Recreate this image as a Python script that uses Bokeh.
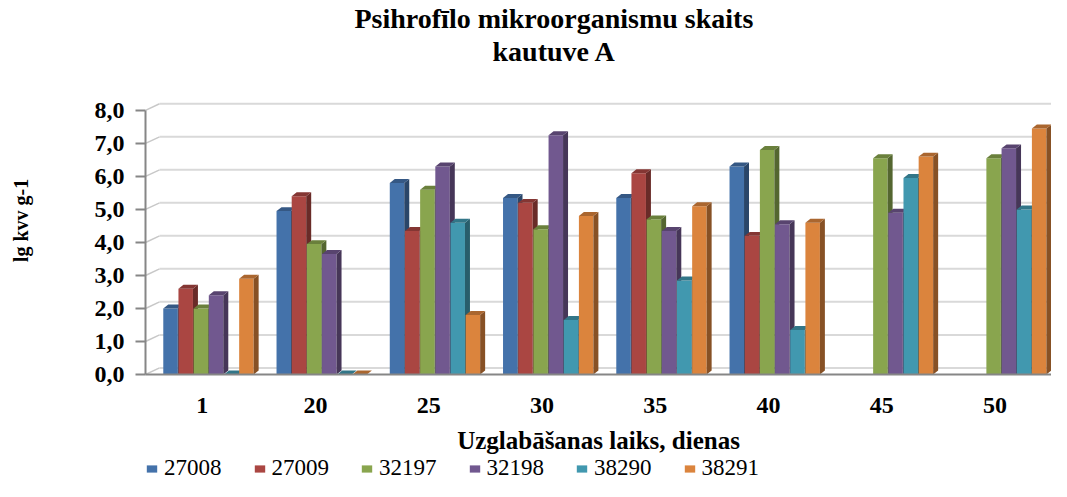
import numpy as np
from bokeh.plotting import figure
from bokeh.layouts import column
from bokeh.models import (FactorRange, Range1d, Title, Legend, LegendItem,
                          CustomJSTickFormatter, FixedTicker, ColumnDataSource)
from bokeh.embed import file_html
from bokeh.resources import INLINE

# ---------------- data ----------------
days = ["1", "20", "25", "30", "35", "40", "45", "50"]
series_names = ["27008", "27009", "32197", "32198", "38290", "38291"]
s27008 = [2.0, 4.95, 5.8, 5.35, 5.35, 6.3, None, None]
s27009 = [2.6, 5.4, 4.35, 5.2, 6.1, 4.2, None, None]
s32197 = [2.0, 3.95, 5.6, 4.4, 4.7, 6.8, 6.55, 6.55]
s32198 = [2.4, 3.65, 6.3, 7.25, 4.35, 4.55, 4.9, 6.85]
s38290 = [0.0, 0.0, 4.6, 1.65, 2.85, 1.35, 5.95, 5.0]
s38291 = [2.9, 0.0, 1.8, 4.8, 5.1, 4.6, 6.6, 7.45]
y_ticks = [0, 1, 2, 3, 4, 5, 6, 7, 8]

title_line1 = "Psihrofīlo mikroorganismu skaits"
title_line2 = "kautuve A"
x_title = "Uzglabāšanas laiks, dienas"
y_title = "lg kvv g-1"

all_series = [s27008, s27009, s32197, s32198, s38290, s38291]
colors = ["#4472AA", "#AA4642", "#89A54E", "#71588F", "#4198AF", "#DB843D"]


def shade(hexc, f):
    h = hexc.lstrip("#")
    r, g, b = (int(h[i:i + 2], 16) for i in (0, 2, 4))
    return "#%02x%02x%02x" % (int(r * f), int(g * f), int(b * f))


FONT = "Liberation Serif"

p = figure(width=1051, height=456,
           x_range=FactorRange(*days, range_padding=0),
           y_range=Range1d(0, 9.33),
           output_backend="svg", toolbar_location=None,
           min_border_left=145, min_border_right=0,
           min_border_top=0, min_border_bottom=0)
p.outline_line_color = None
p.xgrid.visible = False
p.ygrid.visible = False
p.background_fill_color = "white"

# ---- titles (p.title is the farther one) ----
p.title.text = title_line1
p.title.text_font = FONT
p.title.text_font_size = "28px"
p.title.text_font_style = "bold"
p.title.text_color = "black"
p.title.align = "left"
p.title.offset = 209
p.title.standoff = 0
t2 = Title(text=title_line2, text_font=FONT, text_font_size="28px",
           text_font_style="bold", text_color="black", align="left",
           offset=347, standoff=0)
p.add_layout(t2, "above")

# ---- 3D-ish back gridlines (depth offsets in data units) ----
DX = 0.124   # depth shift along x (category units)
DY = 0.20    # depth shift along y (value units)
gt = np.array(y_ticks, dtype=float)
p.segment(x0=np.zeros_like(gt), y0=gt, x1=np.zeros_like(gt) + DX, y1=gt + DY,
          line_color="#C8C8C8", line_width=1.5)
p.segment(x0=np.zeros_like(gt) + DX, y0=gt + DY, x1=np.full_like(gt, len(days)),
          y1=gt + DY, line_color="#D9D9D9", line_width=2)

# ---- bars ----
BW = 0.128     # bar front width
STEP = 0.134   # distance between bars in a cluster
START = -0.279  # offset of the first bar centre from category centre
SDX = 0.044    # bar depth (x)
SDY = 0.12     # bar depth (y)

for i, (name, vals, col) in enumerate(zip(series_names, all_series, colors)):
    xc, vv = [], []
    for k, v in enumerate(vals):
        if v is None:
            continue
        xc.append(k + 0.5 + START + i * STEP)
        vv.append(v)
    xc = np.array(xc)
    vv = np.array(vv)
    src = ColumnDataSource(dict(x=xc, top=vv))
    p.vbar(x="x", top="top", bottom=0, width=BW, source=src,
           fill_color=col, line_color=None)
    xl = xc - BW / 2
    xr = xc + BW / 2
    side_xs = [[a, a + SDX, a + SDX, a] for a in xr]
    side_ys = [[0, SDY, v + SDY, v] for v in vv]
    p.patches(side_xs, side_ys, fill_color=shade(col, 0.62), line_color=None)
    top_xs = [[a, b, b + SDX, a + SDX] for a, b in zip(xl, xr)]
    top_ys = [[v, v, v + SDY, v + SDY] for v in vv]
    p.patches(top_xs, top_ys, fill_color=shade(col, 0.78), line_color=None)

# ---- axes ----
xa = p.xaxis[0]
xa.axis_line_color = "#868686"
xa.axis_line_width = 2
xa.major_tick_out = 0
xa.major_tick_in = 0
xa.minor_tick_out = 0
xa.major_label_text_font = FONT
xa.major_label_text_font_size = "24px"
xa.major_label_text_font_style = "bold"
xa.major_label_text_color = "black"
xa.major_label_standoff = 23
xa.axis_label = x_title
xa.axis_label_text_font = FONT
xa.axis_label_text_font_size = "25px"
xa.axis_label_text_font_style = "bold"
xa.axis_label_text_color = "black"
xa.axis_label_standoff = 11

ya = p.yaxis[0]
ya.ticker = FixedTicker(ticks=y_ticks)
ya.formatter = CustomJSTickFormatter(code="return tick.toFixed(1).replace('.', ',');")
ya.bounds = (0, 8)
ya.axis_line_color = "#868686"
ya.axis_line_width = 2
ya.major_tick_line_color = "#868686"
ya.major_tick_line_width = 2
ya.major_tick_out = 10
ya.major_tick_in = 0
ya.minor_tick_out = 0
ya.minor_tick_in = 0
ya.major_label_text_font = FONT
ya.major_label_text_font_size = "24px"
ya.major_label_text_font_style = "bold"
ya.major_label_text_color = "black"
ya.major_label_standoff = 11
ya.axis_label = y_title
ya.axis_label_text_font = FONT
ya.axis_label_text_font_size = "20px"
ya.axis_label_text_font_style = "bold"
ya.axis_label_text_color = "black"
ya.axis_label_standoff = 60

# ---- legend strip (separate small figure below the chart) ----
lp = figure(width=1051, height=25, x_range=Range1d(0, 1), y_range=Range1d(0, 1),
            output_backend="svg", toolbar_location=None,
            x_axis_location=None, y_axis_location=None,
            min_border_left=0, min_border_right=0,
            min_border_top=0, min_border_bottom=0)
lp.outline_line_color = None
lp.xgrid.visible = False
lp.ygrid.visible = False
items = []
for name, col in zip(series_names, colors):
    # zero-height proxy bar: only its style is used for the legend swatch
    r = lp.vbar(x=[0.0], top=[0.0], bottom=[0.0], width=0.0,
                fill_color=col, line_color=None)
    items.append(LegendItem(label=name, renderers=[r]))
leg = Legend(items=items, orientation="horizontal", location=(0, 0),
             glyph_width=13, glyph_height=9, label_standoff=6, spacing=31,
             padding=0, margin=0, border_line_color=None,
             background_fill_alpha=0,
             label_text_font=FONT, label_text_font_size="23px",
             label_text_color="black")
lp.add_layout(leg, "center")

layout = column(p, lp, spacing=0)
open("out.html", "w").write(file_html(layout, INLINE))
